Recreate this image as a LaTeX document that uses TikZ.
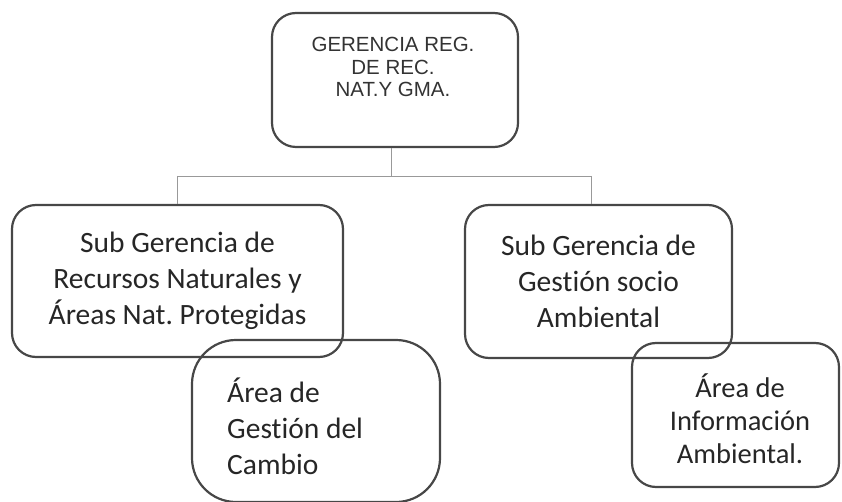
\documentclass[tikz,border=0pt]{standalone}
\usepackage{fontspec}
\newfontfamily\calib[Ligatures=NoCommon]{Carlito}
\newfontfamily\arialf{Liberation Sans}
\newcommand\nolig{\kern0pt}
\frenchspacing
\begin{document}
\begin{tikzpicture}[x=1pt,y=-1pt,
  box/.style={draw=black!72, line width=2.2pt, rounded corners=24pt, inner sep=0pt},
  subtxt/.style={font=\calib\fontsize{29.5}{36}\selectfont, align=center, inner sep=0pt, text=black!85},
  link/.style={draw=black!40, line width=0.8pt}]
\useasboundingbox (0,0) rectangle (842,502);
% top box
\node[box, minimum width=246pt, minimum height=134pt] (top) at (395,80) {};
\node[font=\arialf\fontsize{20.5}{22.5}\selectfont, align=center, inner sep=0pt, text=black!80] (toptxt) at (393,67) {GERENCIA REG.\\DE REC.\\NAT.Y GMA.};
% sub gerencias
\node[box, subtxt, minimum width=331pt, minimum height=152pt] (left) at (177.5,281) {Sub Gerencia de\\Recursos Naturales y\\Áreas Nat. Protegidas};
\node[box, subtxt, minimum width=267pt, minimum height=153pt] (right) at (598.5,281.5) {Sub Gerencia de\\Gest\nolig ión socio\\Ambiental};
% areas
\node[box, rounded corners=44pt, minimum width=248pt, minimum height=162pt] (gest) at (316,421) {};
\node[subtxt, align=left, anchor=west] (gesttxt) at (227,426) {Área de\\Gest\nolig ión del\\Cambio};
\node[box, minimum width=207pt, minimum height=144pt] (info) at (735.5,415) {};
\node[font=\calib\fontsize{28.5}{33}\selectfont, align=center, inner sep=0pt, text=black!85] (infotxt) at (740,419) {Área de\\Información\\Ambiental.};
% connectors
\coordinate (hub) at (391,176);
\coordinate (hubL) at (177,176);
\coordinate (hubR) at (591,176);
\draw[link] (top.south -| hub) -- (hub);
\draw[link] (hubL) -- (hubR);
\draw[link] (hubL) -- (hubL |- left.north);
\draw[link] (hubR) -- (hubR |- right.north);
\end{tikzpicture}
\end{document}
